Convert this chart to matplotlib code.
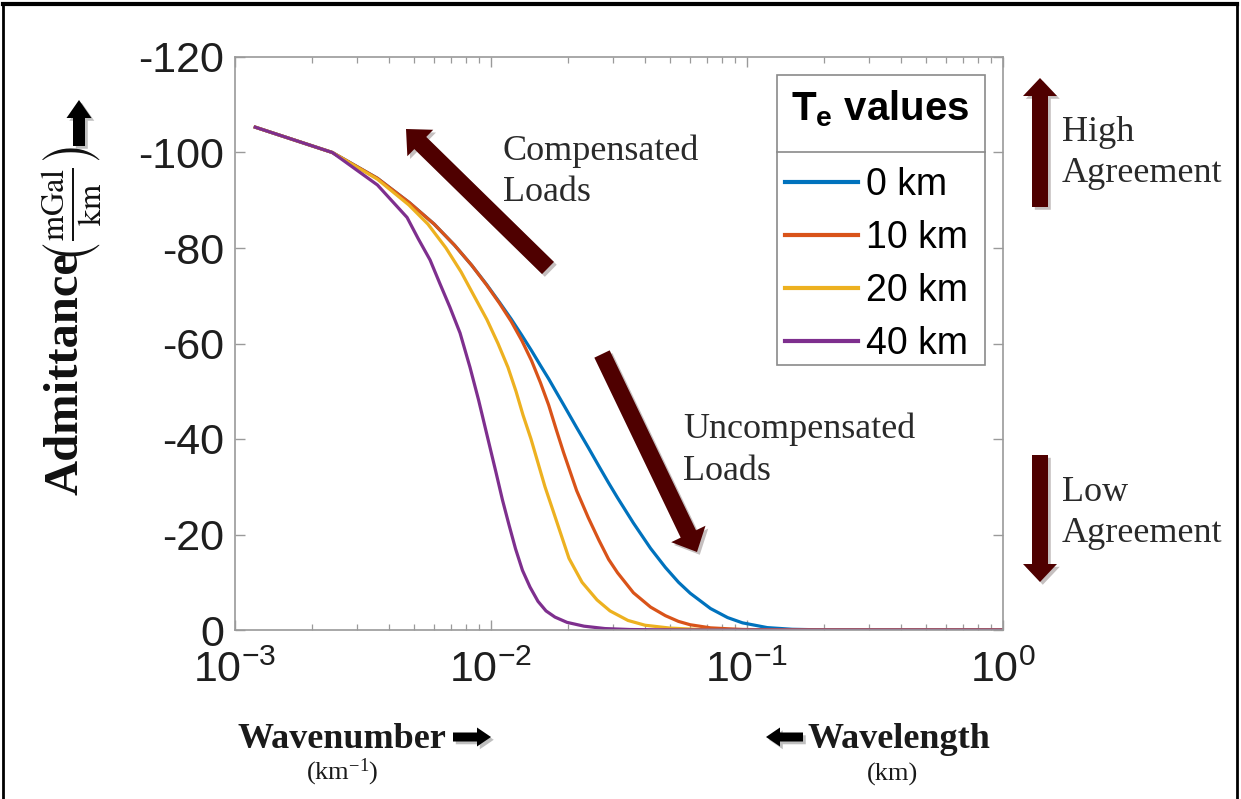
import numpy as np
import matplotlib
matplotlib.use("Agg")
import matplotlib.pyplot as plt
from matplotlib.lines import Line2D
from matplotlib.patches import FancyArrow, Rectangle
from matplotlib.transforms import Affine2D
import matplotlib.patheffects as pe

# --- data (wavenumber in 1/km, admittance in mGal/km) ---
te_labels = ["0 km", "10 km", "20 km", "40 km"]
te_colors = ["#0072BD", "#D95319", "#EDB120", "#7E2F8E"]

k_te0 = [0.0012, 0.0024, 0.0036, 0.0048, 0.006, 0.0072, 0.0084, 0.0096, 0.0108, 0.012,
         0.0132, 0.0144, 0.0156, 0.0168, 0.018, 0.0192, 0.0216, 0.024, 0.0264, 0.0288,
         0.0312, 0.036, 0.042, 0.048, 0.054, 0.06, 0.072, 0.084, 0.096, 0.12, 0.15,
         0.2, 0.3, 1.0]
z_te0 = [-105.3, -100.0, -94.6, -89.5, -85.0, -80.6, -76.4, -72.4, -68.6, -65.1,
         -61.7, -58.5, -55.4, -52.6, -49.8, -47.2, -42.4, -38.2, -34.3, -30.8,
         -27.7, -22.4, -17.1, -13.1, -10.0, -7.7, -4.5, -2.6, -1.5, -0.5, -0.15,
         -0.02, 0.0, 0.0]

k_te10 = [0.0012, 0.0024, 0.0036, 0.0048, 0.006, 0.0072, 0.0084, 0.0096, 0.0108, 0.012,
          0.0132, 0.0144, 0.0156, 0.0168, 0.018, 0.0192, 0.0216, 0.024, 0.0264, 0.0288,
          0.0312, 0.036, 0.042, 0.048, 0.054, 0.06, 0.072, 0.084, 0.096, 0.12, 0.15,
          0.2, 1.0]
z_te10 = [-105.3, -100.0, -94.6, -89.5, -85.0, -80.6, -76.4, -72.3, -68.4, -64.6,
          -60.6, -56.4, -51.8, -47.1, -41.9, -37.2, -29.2, -23.5, -18.8, -14.8,
          -12.0, -7.8, -4.8, -3.0, -1.8, -1.1, -0.45, -0.26, -0.12, -0.05, -0.01,
          0.0, 0.0]

k_te20 = [0.0012, 0.0024, 0.0036, 0.00478, 0.00567, 0.00667, 0.00764, 0.00858, 0.00964,
          0.01065, 0.01165, 0.01252, 0.01334, 0.01433, 0.01526, 0.01625, 0.01747,
          0.01877, 0.02017, 0.02268, 0.02595, 0.02916, 0.03428, 0.03996, 0.05003,
          0.0655, 0.1027, 1.0]
z_te20 = [-105.3, -100.0, -94.4, -89.0, -85.0, -80.0, -75.0, -70.0, -65.0,
          -60.0, -55.0, -50.0, -45.0, -40.0, -35.0, -30.0, -25.0,
          -20.0, -15.0, -10.0, -6.3, -4.0, -2.0, -1.0, -0.4,
          -0.1, 0.0, 0.0]

k_te40 = [0.0012, 0.0024, 0.0036, 0.0047, 0.00519, 0.00578, 0.00632, 0.00691, 0.00757,
          0.00828, 0.00894, 0.00973, 0.01046, 0.01109, 0.01176, 0.01247, 0.01327,
          0.0142, 0.01526, 0.0164, 0.01778, 0.01981, 0.02309, 0.02788, 0.03491,
          0.05473, 1.0]
z_te40 = [-105.3, -100.0, -93.2, -86.4, -82.0, -77.5, -72.5, -67.6, -62.2,
          -55.0, -48.2, -40.0, -33.0, -27.2, -22.0, -17.0, -12.5,
          -9.0, -6.0, -4.0, -2.7, -1.6, -0.8, -0.3, -0.1,
          0.0, 0.0]

curves_k = [k_te0, k_te10, k_te20, k_te40]
curves_z = [z_te0, z_te10, z_te20, z_te40]

y_ticks = [-120, -100, -80, -60, -40, -20, 0]

# --- style ---
plt.rcParams["axes.unicode_minus"] = False
plt.rcParams["mathtext.default"] = "regular"
plt.rcParams["font.family"] = "Liberation Sans"

W, H = 1241, 799
fig = plt.figure(figsize=(W / 100, H / 100), dpi=100)
# transform in reference pixels, origin top-left
px = Affine2D().scale(1 / W, -1 / H).translate(0, 1) + fig.transFigure

ax = fig.add_axes([235 / W, 1 - 630 / H, (1003 - 235) / W, (630 - 57) / H])

handles = []
for k, z, c, lab in zip(curves_k, curves_z, te_colors, te_labels):
    ln, = ax.plot(k, z, color=c, lw=2.3, label=lab, solid_joinstyle="round")
    handles.append(ln)

ax.set_xscale("log")
ax.set_xlim(1e-3, 1)
ax.set_ylim(0, -120)
ax.set_yticks(y_ticks)
ax.set_yticklabels([str(v) for v in y_ticks])

spine_c = "#9a9a9a"
for s in ax.spines.values():
    s.set_color(spine_c)
    s.set_linewidth(1.2)
ax.tick_params(which="both", direction="in", top=True, right=True, color=spine_c,
               labelcolor="#1e1e1e", labelsize=31)
ax.tick_params(which="major", length=7, width=1.0)
ax.tick_params(which="minor", length=4, width=0.9)
ax.tick_params(axis="y", pad=8)
ax.tick_params(axis="x", pad=15)

# legend: box, title and separator drawn by hand, entries by ax.legend
leg_c = "#8a8a8a"
ax.add_patch(Rectangle((777, 75), 208, 290, transform=px, facecolor="white",
                       edgecolor=leg_c, lw=1.2, zorder=4, clip_on=False))
ax.add_line(Line2D([777, 985], [152, 152], transform=px, color=leg_c, lw=1.2,
                   zorder=6, clip_on=False))
ax.text(880, 109, r"T$_{e}$ values", transform=px, ha="center", va="center",
        fontsize=29, fontweight="bold", color="black", zorder=6)
leg = ax.legend(handles=handles, loc="upper left", bbox_to_anchor=(785, 167),
                bbox_transform=px, fontsize=27, frameon=False,
                handlelength=1.95, handletextpad=0.21, labelspacing=0.45,
                borderpad=0, borderaxespad=0)
leg.set_zorder(5)
for line in leg.get_lines():
    line.set_linewidth(3)

# y label pieces
fig.text(66, 374, "Admittance", transform=px, rotation=90, ha="center", va="center",
         family="Liberation Serif", fontweight="bold", fontsize=35, color="#111111")
fig.text(72, 205, r"$\left(\frac{\mathrm{mGal}}{\mathrm{km}}\right)$", transform=px,
         rotation=90, ha="center", va="center", fontsize=33, math_fontfamily="stix",
         color="#111111")

shadow = [pe.SimplePatchShadow(offset=(2, -2), alpha=0.25), pe.Normal()]


def block_arrow(x0, y0, x1, y1, w, hw, hl, color):
    a = FancyArrow(x0, y0, x1 - x0, y1 - y0, width=w, head_width=hw, head_length=hl,
                   length_includes_head=True, transform=px, color=color, lw=0)
    a.set_path_effects(shadow)
    fig.add_artist(a)


block_arrow(79, 146, 79, 100, 12, 25, 18, "black")
block_arrow(453, 737, 491, 737, 9, 19, 14, "black")
block_arrow(803, 737, 766, 737, 9, 19, 14, "black")

maroon = "#4f0000"
block_arrow(548, 268, 406, 129, 17, 37, 20, maroon)
block_arrow(602, 354, 697, 552, 17, 38, 20, maroon)
block_arrow(1040, 207, 1040, 78, 16, 34, 18, maroon)
block_arrow(1040, 455, 1040, 582, 16, 34, 18, maroon)

txt = "#2a2a2a"
serif = "Liberation Serif"
for x, y, s in [(503, 160, "Compensated"), (503, 201, "Loads"),
                (683, 438, "Uncompensated"), (683, 480, "Loads"),
                (1062, 141, "High"), (1062, 182, "Agreement"),
                (1062, 501, "Low"), (1062, 542, "Agreement")]:
    fig.text(x, y, s, transform=px, family=serif, fontsize=26, color=txt, va="baseline")

fig.text(237, 748, "Wavenumber", transform=px, family=serif, fontweight="bold",
         fontsize=26, color="#1a1a1a", va="baseline")
fig.text(342, 779, r"(km$^{-1}$)", transform=px, family=serif, fontsize=19,
         math_fontfamily="stix", color="#1a1a1a", va="baseline", ha="center")
fig.text(808, 748, "Wavelength", transform=px, family=serif, fontweight="bold",
         fontsize=26, color="#1a1a1a", va="baseline")
fig.text(893, 781, "(km)", transform=px, family=serif, fontsize=19,
         color="#1a1a1a", va="baseline", ha="center")

# outer frame
for xs, ys, lw in [([3, 3], [4, 799], 2), ([3, 1237], [4, 4], 3),
                   ([1237, 1237], [4, 799], 2)]:
    fig.add_artist(Line2D(xs, ys, transform=px, color="black", lw=lw))

fig.savefig("out.png", dpi=100)
